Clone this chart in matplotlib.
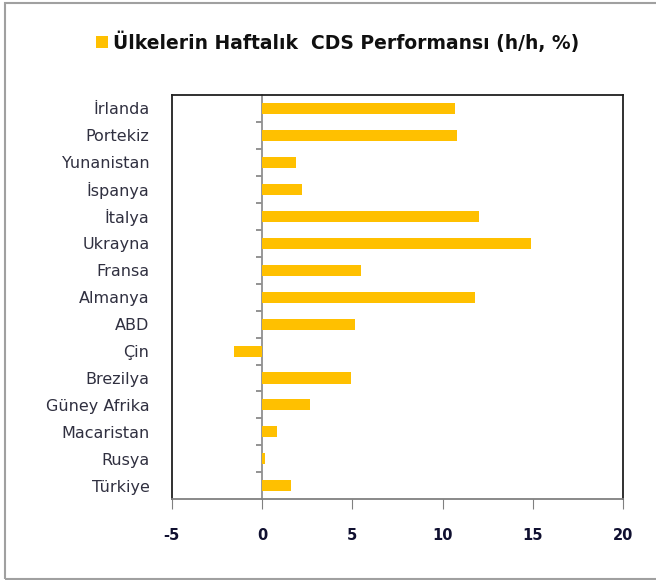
import matplotlib
matplotlib.use("Agg")
import matplotlib.pyplot as plt
from matplotlib.patches import Rectangle
import numpy as np

countries = ["İrlanda", "Portekiz", "Yunanistan", "İspanya", "İtalya", "Ukrayna",
             "Fransa", "Almanya", "ABD", "Çin", "Brezilya", "Güney Afrika",
             "Macaristan", "Rusya", "Türkiye"]
values = [10.7, 10.8, 1.86, 2.19, 12.0, 14.9, 5.49, 11.8, 5.17, -1.57, 4.95,
          2.63, 0.85, 0.18, 1.62]
xticks = [-5, 0, 5, 10, 15, 20]
title = "Ülkelerin Haftalık  CDS Performansı (h/h, %)"

plt.rcParams['font.family'] = ['DejaVu Sans']
W, H = 656, 580
fig = plt.figure(figsize=(W / 100, H / 100), dpi=100)
ax = fig.add_axes([171.7 / W, 1 - 499.3 / H, (623.3 - 171.7) / W, (499.3 - 95) / H])

n = len(countries)
ypos = np.arange(n)[::-1]
bars = ax.barh(ypos, values, height=0.41, color="#FFC000", label=title)

ax.set_xlim(-5, 20)
ax.set_ylim(-0.5, n - 0.5)
ax.set_xticks(xticks)
ax.set_xticklabels([str(t) for t in xticks], fontsize=10.5, color="#101030",
                   fontweight="bold")
ax.tick_params(axis="x", direction="out", length=7, color="#808080", pad=14)
ax.set_yticks(ypos)
ax.set_yticklabels(countries, fontsize=11.5, color="#303040")
ax.tick_params(axis="y", length=0, pad=16)

for s in ["top", "left", "right"]:
    ax.spines[s].set_color("#202020")
    ax.spines[s].set_linewidth(1.3)
ax.spines["bottom"].set_color("#808080")
ax.spines["bottom"].set_linewidth(1.3)

sec = ax.secondary_yaxis(location=5 / 25)
sec.set_yticks(np.arange(n - 1) + 0.5)
sec.set_yticklabels([])
sec.tick_params(direction="out", length=4, color="#808080", width=1.2)
sec.spines["left"].set_color("#909090")
sec.spines["left"].set_linewidth(1.3)

leg = fig.legend(handles=[bars], labels=[title], loc="center",
                 bbox_to_anchor=(338 / W, 1 - 42 / H), frameon=False,
                 handlelength=0.6, handleheight=0.6, handletextpad=0.3,
                 prop={"size": 13.5, "weight": "bold"})
for t in leg.get_texts():
    t.set_color("#101010")

fig.patches.append(Rectangle((5 / W, 1 - 579 / H), 660 / W, 576 / H,
                             transform=fig.transFigure, fill=False,
                             edgecolor="#a0a0a0", linewidth=1.5))

fig.savefig("out.png", dpi=100)
